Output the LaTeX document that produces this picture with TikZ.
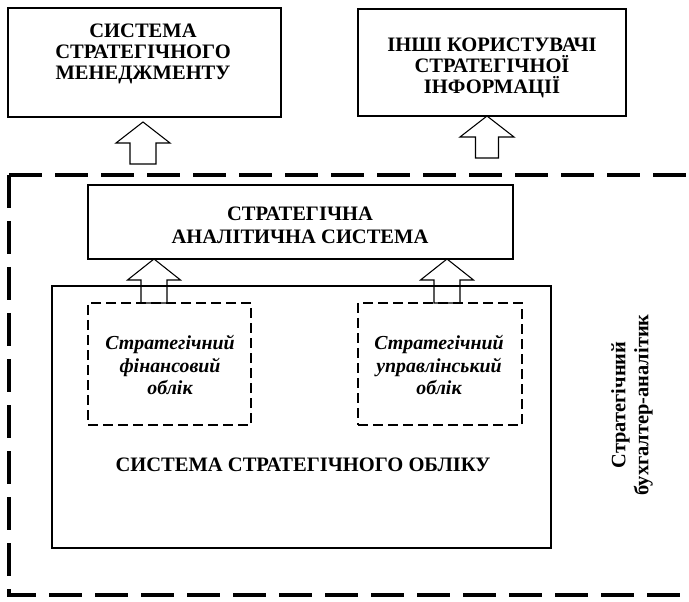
\documentclass[tikz,border=0pt]{standalone}
\usepackage{fontspec}
\setmainfont{Liberation Serif}
\usetikzlibrary{calc}
\begin{document}
\begin{tikzpicture}[x=0.75pt,y=-0.75pt,
  box/.style={draw, line width=1.1pt, rectangle, inner sep=0pt},
  sysbox/.style={draw, line width=1.8pt, rectangle, inner sep=0pt},
  subbox/.style={draw, line width=1.5pt, dash pattern=on 7.5pt off 3.75pt, rectangle, inner sep=0pt},
  ttl/.style={font=\fontsize{15.4}{15.9}\selectfont\bfseries, align=center, inner sep=0pt},
  itl/.style={font=\fontsize{14.9}{16.9}\selectfont\bfseries\itshape, align=center, inner sep=0pt},
  outer/.style={line width=3pt, dash pattern=on 24.75pt off 9.75pt},
  barrow/.style={draw, line width=0.8pt, line join=miter}
]
\useasboundingbox (0,0) rectangle (689,602);

% outer dashed frame
\coordinate (oc) at (9,175);
\coordinate (ob) at (9,595);
\coordinate (ocr) at (710,175);
\coordinate (obr) at (710,595);
\draw[outer] (oc) -- (ocr);
\draw[outer] (oc) -- (ob) -- (obr);

% top boxes
\node[box, minimum width=204.75pt, minimum height=81.75pt] (sm) at (144.5,62.5) {};
\node[ttl] (smt) at (143,54) {СИСТЕМА\\СТРАТЕГІЧНОГО\\МЕНЕДЖМЕНТУ};
\node[box, minimum width=201pt, minimum height=80.25pt] (iu) at (492,62.5) {};
\node[ttl] (iut) at (492,68) {ІНШІ КОРИСТУВАЧІ\\СТРАТЕГІЧНОЇ\\ІНФОРМАЦІЇ};

% analytic system
\node[box, minimum width=318.75pt, minimum height=55.5pt] (sas) at (300.5,222) {};
\node[ttl, font=\fontsize{15.4}{17.5}\selectfont\bfseries] (sast) at (300,225) {СТРАТЕГІЧНА\\АНАЛІТИЧНА СИСТЕМА};

% accounting system
\node[sysbox, minimum width=374.25pt, minimum height=196.5pt] (sys) at (301.5,417) {};
\node[ttl] (syst) at (303,465) {СИСТЕМА СТРАТЕГІЧНОГО ОБЛІКУ};

% sub boxes
\node[subbox, minimum width=122.25pt, minimum height=91.5pt] (fin) at (169.5,364) {};
\node[itl] (fint) at (170,365) {Стратегічний\\фінансовий\\облік};
\node[subbox, minimum width=123pt, minimum height=91.5pt] (man) at (440,364) {};
\node[itl] (mant) at (439,365) {Стратегічний\\управлінський\\облік};

% vertical label
\node[ttl, font=\fontsize{15.3}{17.2}\selectfont\bfseries, rotate=90] (ba) at (632,405) {Стратегічний\\бухгалтер-аналітик};

% block arrows
\coordinate (t1) at (143,122);
\draw[barrow] (t1) -- ++(27,21) -- ++(-14,0) -- ++(0,21) -- ++(-26,0) -- ++(0,-21) -- ++(-14,0) -- cycle;
\coordinate (t2) at (487,116);
\draw[barrow] (t2) -- ++(27,21) -- ++(-15.5,0) -- ++(0,21) -- ++(-23,0) -- ++(0,-21) -- ++(-15.5,0) -- cycle;
\coordinate (ta) at (154,259);
\draw[barrow] (ta) -- ++(26.5,21) -- ++(-13.5,0) -- ++(0,23) -- ++(-26,0) -- ++(0,-23) -- ++(-13.5,0) -- cycle;
\coordinate (tb) at (447,259);
\draw[barrow] (tb) -- ++(26.5,21) -- ++(-13.5,0) -- ++(0,23) -- ++(-26,0) -- ++(0,-23) -- ++(-13.5,0) -- cycle;
\end{tikzpicture}
\end{document}
